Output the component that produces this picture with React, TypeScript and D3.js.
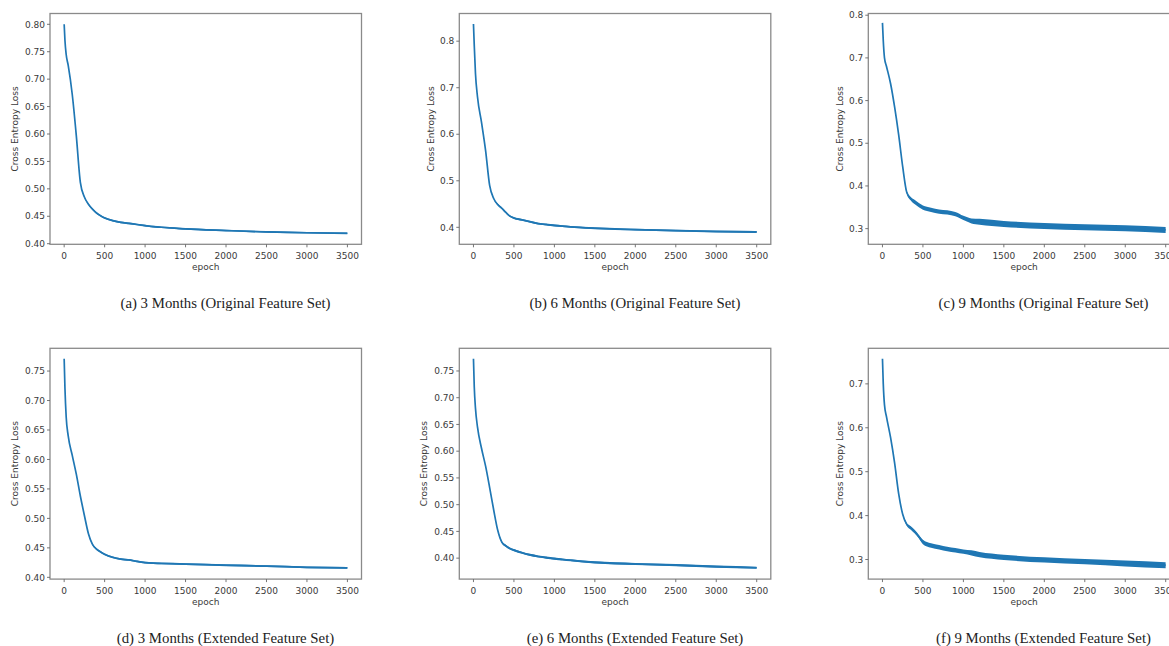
import React from "react";
import * as d3 from "d3";

// ---- data ----
const EPOCHS = [0, 10, 25, 50, 100, 150, 200, 250, 300, 350, 400, 450, 500, 600, 700, 800, 900, 1000, 1100, 1200, 1500, 2000, 2500, 3000, 3499];

const LOSS_A = [0.800, 0.770, 0.745, 0.725, 0.672, 0.597, 0.512, 0.485, 0.472, 0.463, 0.456, 0.451, 0.447, 0.442, 0.439, 0.437, 0.435, 0.433, 0.431, 0.430, 0.427, 0.424, 0.4215, 0.420, 0.419];
const LOSS_B = [0.837, 0.790, 0.730, 0.680, 0.625, 0.565, 0.490, 0.462, 0.449, 0.441, 0.432, 0.424, 0.420, 0.416, 0.412, 0.408, 0.406, 0.404, 0.4025, 0.401, 0.398, 0.395, 0.393, 0.391, 0.390];
const LOSS_C = [0.782, 0.740, 0.700, 0.680, 0.640, 0.585, 0.520, 0.445, 0.385, 0.370, 0.362, 0.355, 0.349, 0.344, 0.340, 0.338, 0.334, 0.325, 0.318, 0.316, 0.311, 0.306, 0.303, 0.301, 0.297];
const LOSS_D = [0.771, 0.720, 0.672, 0.640, 0.607, 0.575, 0.538, 0.505, 0.474, 0.456, 0.448, 0.443, 0.439, 0.434, 0.431, 0.4295, 0.427, 0.425, 0.424, 0.4235, 0.4225, 0.4205, 0.419, 0.417, 0.416];
const LOSS_E = [0.773, 0.720, 0.680, 0.645, 0.605, 0.572, 0.532, 0.490, 0.452, 0.430, 0.423, 0.418, 0.415, 0.410, 0.406, 0.403, 0.401, 0.399, 0.3975, 0.396, 0.392, 0.389, 0.387, 0.384, 0.382];
const LOSS_F = [0.757, 0.700, 0.652, 0.625, 0.578, 0.520, 0.450, 0.403, 0.380, 0.372, 0.363, 0.352, 0.340, 0.332, 0.328, 0.324, 0.321, 0.318, 0.315, 0.311, 0.305, 0.299, 0.295, 0.291, 0.287];

// half-width of the visible noise band
const SPREAD_A = [0, 0, 0, 0, 0, 0, 0, 0.001, 0.0015, 0.0015, 0.0015, 0.0015, 0.0015, 0.0015, 0.0015, 0.0015, 0.0015, 0.0015, 0.0015, 0.0015, 0.0015, 0.0015, 0.0015, 0.0015, 0.0015];
const SPREAD_B = [0, 0, 0, 0, 0, 0, 0, 0.001, 0.002, 0.002, 0.002, 0.002, 0.002, 0.002, 0.002, 0.002, 0.002, 0.002, 0.002, 0.002, 0.002, 0.002, 0.002, 0.002, 0.002];
const SPREAD_C = [0, 0, 0, 0, 0, 0, 0, 0.001, 0.003, 0.004, 0.005, 0.005, 0.005, 0.005, 0.005, 0.005, 0.005, 0.005, 0.006, 0.007, 0.007, 0.007, 0.007, 0.007, 0.007];
const SPREAD_D = [0, 0, 0, 0, 0, 0, 0, 0, 0.001, 0.0015, 0.0015, 0.0015, 0.0015, 0.0015, 0.0015, 0.0015, 0.0015, 0.0015, 0.0015, 0.0015, 0.0015, 0.0015, 0.0015, 0.0015, 0.0015];
const SPREAD_E = [0, 0, 0, 0, 0, 0, 0, 0, 0.001, 0.002, 0.002, 0.002, 0.002, 0.002, 0.002, 0.002, 0.002, 0.002, 0.002, 0.002, 0.002, 0.002, 0.002, 0.002, 0.002];
const SPREAD_F = [0, 0, 0, 0, 0, 0, 0, 0.001, 0.003, 0.004, 0.004, 0.004, 0.005, 0.005, 0.005, 0.005, 0.005, 0.005, 0.006, 0.006, 0.006, 0.006, 0.006, 0.007, 0.007];

const X_TICKS = [0, 500, 1000, 1500, 2000, 2500, 3000, 3500];
const Y_TICKS_A = [0.40, 0.45, 0.50, 0.55, 0.60, 0.65, 0.70, 0.75, 0.80];
const Y_TICKS_B = [0.4, 0.5, 0.6, 0.7, 0.8];
const Y_TICKS_C = [0.3, 0.4, 0.5, 0.6, 0.7, 0.8];
const Y_TICKS_D = [0.40, 0.45, 0.50, 0.55, 0.60, 0.65, 0.70, 0.75];
const Y_TICKS_E = [0.40, 0.45, 0.50, 0.55, 0.60, 0.65, 0.70, 0.75];
const Y_TICKS_F = [0.3, 0.4, 0.5, 0.6, 0.7];

const CAPTIONS = [
  "(a) 3 Months (Original Feature Set)",
  "(b) 6 Months (Original Feature Set)",
  "(c) 9 Months (Original Feature Set)",
  "(d) 3 Months (Extended Feature Set)",
  "(e) 6 Months (Extended Feature Set)",
  "(f) 9 Months (Extended Feature Set)",
];

const X_LABEL = "epoch";
const Y_LABEL = "Cross Entropy Loss";

// ---- layout ----
const W = 1169;
const H = 646;
const COL_LEFT = [50, 459.3, 868.3];
const ROW_TOP = [13.5, 348.3];
const PW = 311.5;
const PH = 230.8;
const X_DOMAIN = [-175, 3674];
const CAPTION_X = [225.5, 635, 1043.5];
const CAPTION_Y = [307.5, 642.5];
const LINE_COLOR = "#1f77b4";
const TEXT_COLOR = "#3a3a3a";
const TICK_FONT = "'DejaVu Sans', sans-serif";

const PANELS = [
  { values: LOSS_A, spread: SPREAD_A, yDomain: [0.3989, 0.8197], yTicks: Y_TICKS_A, fmt: ".2f", col: 0, row: 0 },
  { values: LOSS_B, spread: SPREAD_B, yDomain: [0.3635, 0.8595], yTicks: Y_TICKS_B, fmt: ".1f", col: 1, row: 0 },
  { values: LOSS_C, spread: SPREAD_C, yDomain: [0.2633, 0.8040], yTicks: Y_TICKS_C, fmt: ".1f", col: 2, row: 0 },
  { values: LOSS_D, spread: SPREAD_D, yDomain: [0.3970, 0.7886], yTicks: Y_TICKS_D, fmt: ".2f", col: 0, row: 1 },
  { values: LOSS_E, spread: SPREAD_E, yDomain: [0.3608, 0.7924], yTicks: Y_TICKS_E, fmt: ".2f", col: 1, row: 1 },
  { values: LOSS_F, spread: SPREAD_F, yDomain: [0.2554, 0.7810], yTicks: Y_TICKS_F, fmt: ".1f", col: 2, row: 1 },
];

function Panel({ p, idx }: { p: any; idx: number }) {
  const left = COL_LEFT[p.col];
  const top = ROW_TOP[p.row];
  const x = d3.scaleLinear().domain(X_DOMAIN).range([left, left + PW]);
  const y = d3.scaleLinear().domain(p.yDomain).range([top + PH, top]);
  const pts = EPOCHS.map((e, i) => ({ e, v: p.values[i], s: p.spread[i] }));
  const line = d3
    .line<any>()
    .x((d) => x(d.e))
    .y((d) => y(d.v))
    .curve(d3.curveMonotoneX);
  const area = d3
    .area<any>()
    .x((d) => x(d.e))
    .y0((d) => y(d.v - d.s))
    .y1((d) => y(d.v + d.s))
    .curve(d3.curveMonotoneX);
  const fmt = d3.format(p.fmt);
  const clipId = `clip-${idx}`;
  const labelOffset = p.fmt === ".2f" ? 35 : 28;
  const bottom = top + PH;
  return (
    <g>
      <defs>
        <clipPath id={clipId}>
          <rect x={left} y={top} width={PW} height={PH} />
        </clipPath>
      </defs>
      <g clipPath={`url(#${clipId})`}>
        <path d={area(pts) || ""} fill={LINE_COLOR} stroke="none" />
        <path d={line(pts) || ""} fill="none" stroke={LINE_COLOR} strokeWidth={1.7} />
      </g>
      <rect x={left} y={top} width={PW} height={PH} fill="none" stroke="#8a8a8a" strokeWidth={1.3} />
      {X_TICKS.map((t) => (
        <g key={"x" + t}>
          <line x1={x(t)} x2={x(t)} y1={bottom} y2={bottom + 3} stroke="#666" strokeWidth={0.9} />
          <text x={x(t)} y={bottom + 14.5} textAnchor="middle" fontSize={9} fontFamily={TICK_FONT} fill={TEXT_COLOR}>
            {String(t)}
          </text>
        </g>
      ))}
      {p.yTicks.map((t: number) => (
        <g key={"y" + t}>
          <line x1={left - 3} x2={left} y1={y(t)} y2={y(t)} stroke="#666" strokeWidth={0.9} />
          <text x={left - 5} y={y(t) + 3.2} textAnchor="end" fontSize={9} fontFamily={TICK_FONT} fill={TEXT_COLOR}>
            {fmt(t)}
          </text>
        </g>
      ))}
      <text x={(x(0) + x(3500)) / 2} y={bottom + 25.5} textAnchor="middle" fontSize={9} fontFamily={TICK_FONT} fill={TEXT_COLOR}>
        {X_LABEL}
      </text>
      <text
        transform={`translate(${left - labelOffset},${top + PH / 2}) rotate(-90)`}
        textAnchor="middle"
        dominantBaseline="middle"
        fontSize={9}
        fontFamily={TICK_FONT}
        fill={TEXT_COLOR}
      >
        {Y_LABEL}
      </text>
      <text
        x={CAPTION_X[p.col]}
        y={CAPTION_Y[p.row]}
        textAnchor="middle"
        fontSize={14.8}
        fontFamily="'Liberation Serif', 'Times New Roman', serif"
        fill="#222"
      >
        {CAPTIONS[idx]}
      </text>
    </g>
  );
}

export default function App() {
  return (
    <svg width={W} height={H} style={{ position: "absolute", left: 0, top: 0, background: "#fff" }}>
      <rect x={0} y={0} width={W} height={H} fill="#fff" />
      {PANELS.map((p, i) => (
        <Panel key={i} p={p} idx={i} />
      ))}
    </svg>
  );
}
